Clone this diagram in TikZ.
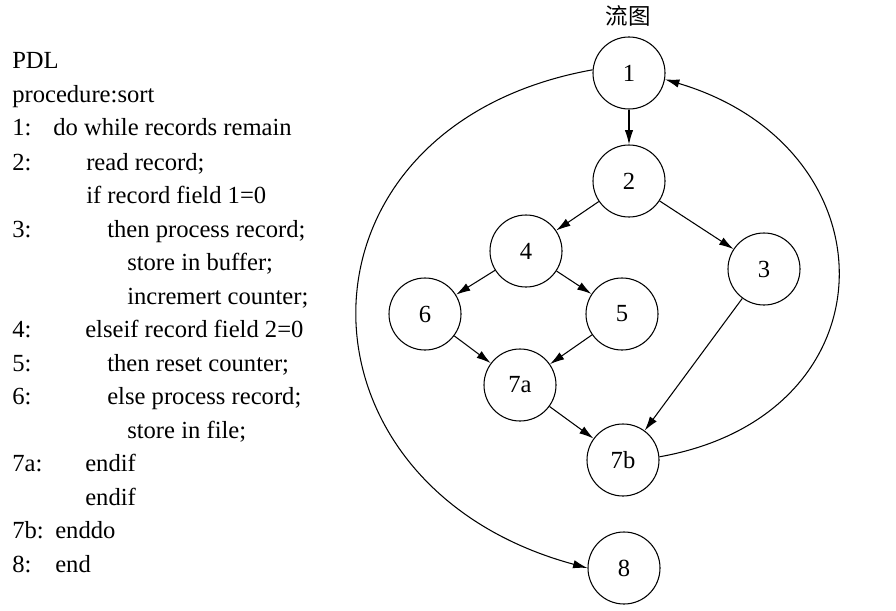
\documentclass[tikz,border=0pt]{standalone}
\usepackage{fontspec}
\setmainfont{Liberation Serif}
\newfontfamily\cjk{Noto Sans CJK SC}
\usetikzlibrary{arrows.meta}

\begin{document}
\begin{tikzpicture}[x=0.025cm, y=-0.025cm, font=\fontsize{17.5}{21}\selectfont, >={Latex[length=3.6mm,width=2.1mm]},
vertex/.style={draw, circle, minimum size=1.8cm, inner sep=0pt, line width=0.75pt},
pdl/.style={anchor=base west, inner sep=0pt},
flow/.style={->, line width=0.75pt}]
\useasboundingbox (0,0) rectangle (896,611);
% PDL listing
\node[pdl] (head) at (12,69) {PDL};
\node[pdl] (proc) at (12,103) {procedure:sort};
\node[pdl] (l1) at (12,136) {1:}; \node[pdl] (t1) at (53,136) {do while records remain};
\node[pdl] (l2) at (12,170) {2:}; \node[pdl] (t2) at (86,170) {read record;};
\node[pdl] (t2b) at (86,203) {if record field 1=0};
\node[pdl] (l3) at (12,237) {3:}; \node[pdl] (t3) at (107,237) {then process record;};
\node[pdl] (t3b) at (127,270) {store in buffer;};
\node[pdl] (t3c) at (127,304) {incremert counter;};
\node[pdl] (l4) at (12,337) {4:}; \node[pdl] (t4) at (85,337) {elseif record field 2=0};
\node[pdl] (l5) at (12,371) {5:}; \node[pdl] (t5) at (107,371) {then reset counter;};
\node[pdl] (l6) at (12,404) {6:}; \node[pdl] (t6) at (107,404) {else process record;};
\node[pdl] (t6b) at (127,438) {store in file;};
\node[pdl] (l7a) at (12,471) {7a:}; \node[pdl] (t7a) at (85,471) {endif};
\node[pdl] (t7ab) at (85,505) {endif};
\node[pdl] (l7b) at (12,538) {7b:}; \node[pdl] (t7b) at (55,538) {enddo};
\node[pdl] (l8) at (12,572) {8:}; \node[pdl] (t8) at (55,572) {end};
% flow graph
\node[font=\fontsize{16}{19}\selectfont\cjk] (title) at (628,16) {流图};
\node[vertex] (n1) at (629,73) {1};
\node[vertex] (n2) at (629,181) {2};
\node[vertex] (n4) at (526,251) {4};
\node[vertex] (n3) at (764,269) {3};
\node[vertex] (n6) at (425,314) {6};
\node[vertex] (n5) at (622,314) {5};
\node[vertex] (n7a) at (520,385) {7a};
\node[vertex] (n7b) at (623,460) {7b};
\node[vertex] (n8) at (624,568) {8};
\draw[flow] (n1) -- (n2); \draw[flow] (n2) -- (n4); \draw[flow] (n2) -- (n3);
\draw[flow] (n4) -- (n6); \draw[flow] (n4) -- (n5); \draw[flow] (n6) -- (n7a); \draw[flow] (n5) -- (n7a);
\draw[flow] (n7a) -- (n7b); \draw[flow] (n3) -- (n7b);
\draw[flow] (n7b.5) .. controls (896,415) and (896,148) .. (n1.-10);
\draw[flow] (n1.175) .. controls (280,126) and (280,485) .. (n8.west);
\end{tikzpicture}
\end{document}
